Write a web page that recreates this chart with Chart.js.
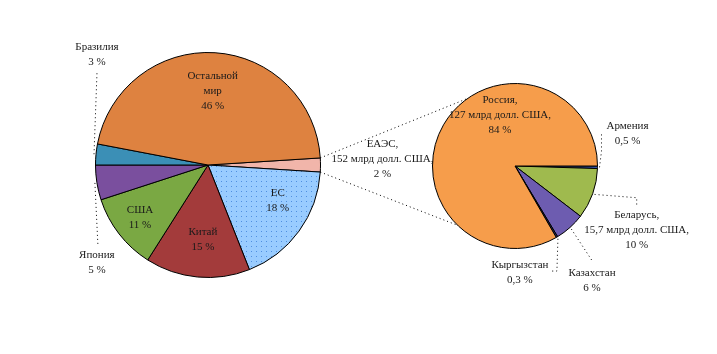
<!DOCTYPE html>
<html>
<head>
<meta charset="utf-8">
<script src="https://cdn.jsdelivr.net/npm/chart.js@4/dist/chart.umd.min.js"></script>
<style>
  html, body { margin: 0; padding: 0; background: #fff; }
  #wrap { position: relative; width: 717px; height: 354px; }
  #wrap canvas { position: absolute; left: 0; top: 0; }
</style>
</head>
<body>
<div id="wrap">
  <canvas id="world" width="717" height="354"></canvas>
  <canvas id="eaeu" width="717" height="354"></canvas>
</div>
<script>
// === ДАННЫЕ ===
// левая диаграмма: внешняя торговля по партнёрам, %
const worldNames = ["ЕАЭС", "ЕС", "Китай", "США", "Япония", "Бразилия", "Остальной\nмир"];
const worldValues = [2, 18, 15, 11, 5, 3, 46];
const worldVolumes = [152, null, null, null, null, null, null]; // млрд долл. США

// правая диаграмма: доля стран внутри ЕАЭС, %
const eaeuNames = ["Армения", "Беларусь", "Казахстан", "Кыргызстан", "Россия"];
const eaeuValues = [0.5, 10, 6, 0.3, 84];
const eaeuVolumes = [null, 15.7, null, null, 127]; // млрд долл. США

// текст подписи: имя, объём (если есть), процент
function makeText(names, values, volumes) {
  return names.map((n, i) => {
    const lines = n.split("\n");
    const pct = String(values[i]).replace(".", ",") + " %";
    if (volumes[i] != null) {
      lines[lines.length - 1] += ",";
      lines.push(String(volumes[i]).replace(".", ",") + " млрд долл. США,");
    }
    lines.push(pct);
    return lines;
  });
}

// точки для ЕС
function dots(bg, dot, step) {
  const c = document.createElement("canvas");
  c.width = step; c.height = step;
  const g = c.getContext("2d");
  g.fillStyle = bg; g.fillRect(0, 0, step, step);
  g.fillStyle = dot; g.fillRect(1, 1, 1, 1);
  return g.createPattern(c, "repeat");
}

// подписи секторов + выноски
const sliceText = {
  id: "sliceText",
  afterDraw(chart, args, opts) {
    const ctx = chart.ctx;
    const arcs = chart.getDatasetMeta(0).data;
    ctx.save();
    ctx.font = "11px 'Liberation Serif'";
    ctx.textAlign = "center";
    ctx.textBaseline = "middle";
    arcs.forEach((arc, i) => {
      const p = opts.place[i];
      const { x, y, outerRadius, startAngle, endAngle } =
        arc.getProps(["x", "y", "outerRadius", "startAngle", "endAngle"], true);
      const mid = (startAngle + endAngle) / 2;
      const lx = x + Math.cos(mid) * outerRadius * p.f + p.dx;
      const ly = y + Math.sin(mid) * outerRadius * p.f + p.dy;
      if (p.lead) {
        ctx.strokeStyle = "#000";
        ctx.lineWidth = 1;
        ctx.setLineDash([1, 3]);
        ctx.beginPath();
        ctx.moveTo(x + Math.cos(mid) * (outerRadius + 2), y + Math.sin(mid) * (outerRadius + 2));
        p.lead.forEach(pt => ctx.lineTo(lx + pt[0], ly + pt[1]));
        ctx.stroke();
        ctx.setLineDash([]);
      }
      const lines = opts.text[i];
      ctx.fillStyle = "#1a1a1a";
      lines.forEach((t, k) => ctx.fillText(t, lx, ly + (k - (lines.length - 1) / 2) * 15));
    });
    ctx.restore();
  }
};

const worldChart = new Chart(document.getElementById("world"), {
  type: "pie",
  data: {
    labels: worldNames,
    datasets: [{
      data: worldValues,
      backgroundColor: ["#f1b5aa", dots("#99ccff", "#4f8fe0", 5), "#a33b3b", "#7aa843", "#7a4f9e", "#3b8fb6", "#de8240"],
      borderColor: "#000",
      borderWidth: 1
    }]
  },
  options: {
    responsive: false,
    animation: false,
    rotation: 90 - worldValues[0] / 2 * 3.6, // ЕАЭС на 3 часа
    layout: { padding: { left: 95, right: 396, top: 52, bottom: 76 } },
    plugins: {
      legend: { display: false },
      tooltip: { enabled: false },
      sliceText: {
        text: makeText(worldNames, worldValues, worldVolumes),
        place: [
          { f: 1, dx: 62, dy: -6 },
          { f: 0.7, dx: 6, dy: -11 },
          { f: 0.67, dx: 2, dy: 0 },
          { f: 0.765, dx: 0, dy: 0 },
          { f: 1, dx: 0, dy: 80, lead: [[1, -18]] },
          { f: 1, dx: 1, dy: -100, lead: [[0, 18]] },
          { f: 0.66, dx: 0, dy: 0 }
        ]
      }
    }
  },
  plugins: [sliceText]
});

// пунктир от сектора ЕАЭС к правому кругу
const linkLines = {
  id: "linkLines",
  afterDraw(chart, args, opts) {
    const src = worldChart.getDatasetMeta(0).data[0];
    const s = src.getProps(["x", "y", "outerRadius", "startAngle", "endAngle"], true);
    const d = chart.getDatasetMeta(0).data[0].getProps(["x", "y", "outerRadius"], true);
    const ctx = chart.ctx;
    ctx.save();
    ctx.strokeStyle = "#000";
    ctx.lineWidth = 1;
    ctx.setLineDash([1, 3]);
    [[s.startAngle, opts.top], [s.endAngle, opts.bottom]].forEach(([a, b]) => {
      const rad = b * Math.PI / 180;
      ctx.beginPath();
      ctx.moveTo(s.x + Math.cos(a) * s.outerRadius, s.y + Math.sin(a) * s.outerRadius);
      ctx.lineTo(d.x + Math.cos(rad) * d.outerRadius, d.y + Math.sin(rad) * d.outerRadius);
      ctx.stroke();
    });
    ctx.restore();
  }
};

new Chart(document.getElementById("eaeu"), {
  type: "pie",
  data: {
    labels: eaeuNames,
    datasets: [{
      data: eaeuValues,
      backgroundColor: ["#3452a6", "#9fba4e", "#6d5cb0", "#2f2f6a", "#f69d4b"],
      borderColor: "#000",
      borderWidth: 1
    }]
  },
  options: {
    responsive: false,
    animation: false,
    rotation: 90,
    layout: { padding: { left: 432, right: 119, top: 83, bottom: 105 } },
    plugins: {
      legend: { display: false },
      tooltip: { enabled: false },
      linkLines: { top: -125, bottom: 134 },
      sliceText: {
        text: makeText(eaeuNames, eaeuValues, eaeuVolumes),
        place: [
          { f: 1, dx: 30, dy: -34, lead: [[-26, 18], [-26, 0]] },
          { f: 1, dx: 44, dy: 36, lead: [[0, -32], [0, -25]] },
          { f: 1, dx: 22, dy: 53, lead: [[0, -20]] },
          { f: 1, dx: -37, dy: 36, lead: [[37, -2], [31, -2]] },
          { f: 0, dx: -15, dy: -51 }
        ]
      }
    }
  },
  plugins: [sliceText, linkLines]
});
</script>
</body>
</html>
